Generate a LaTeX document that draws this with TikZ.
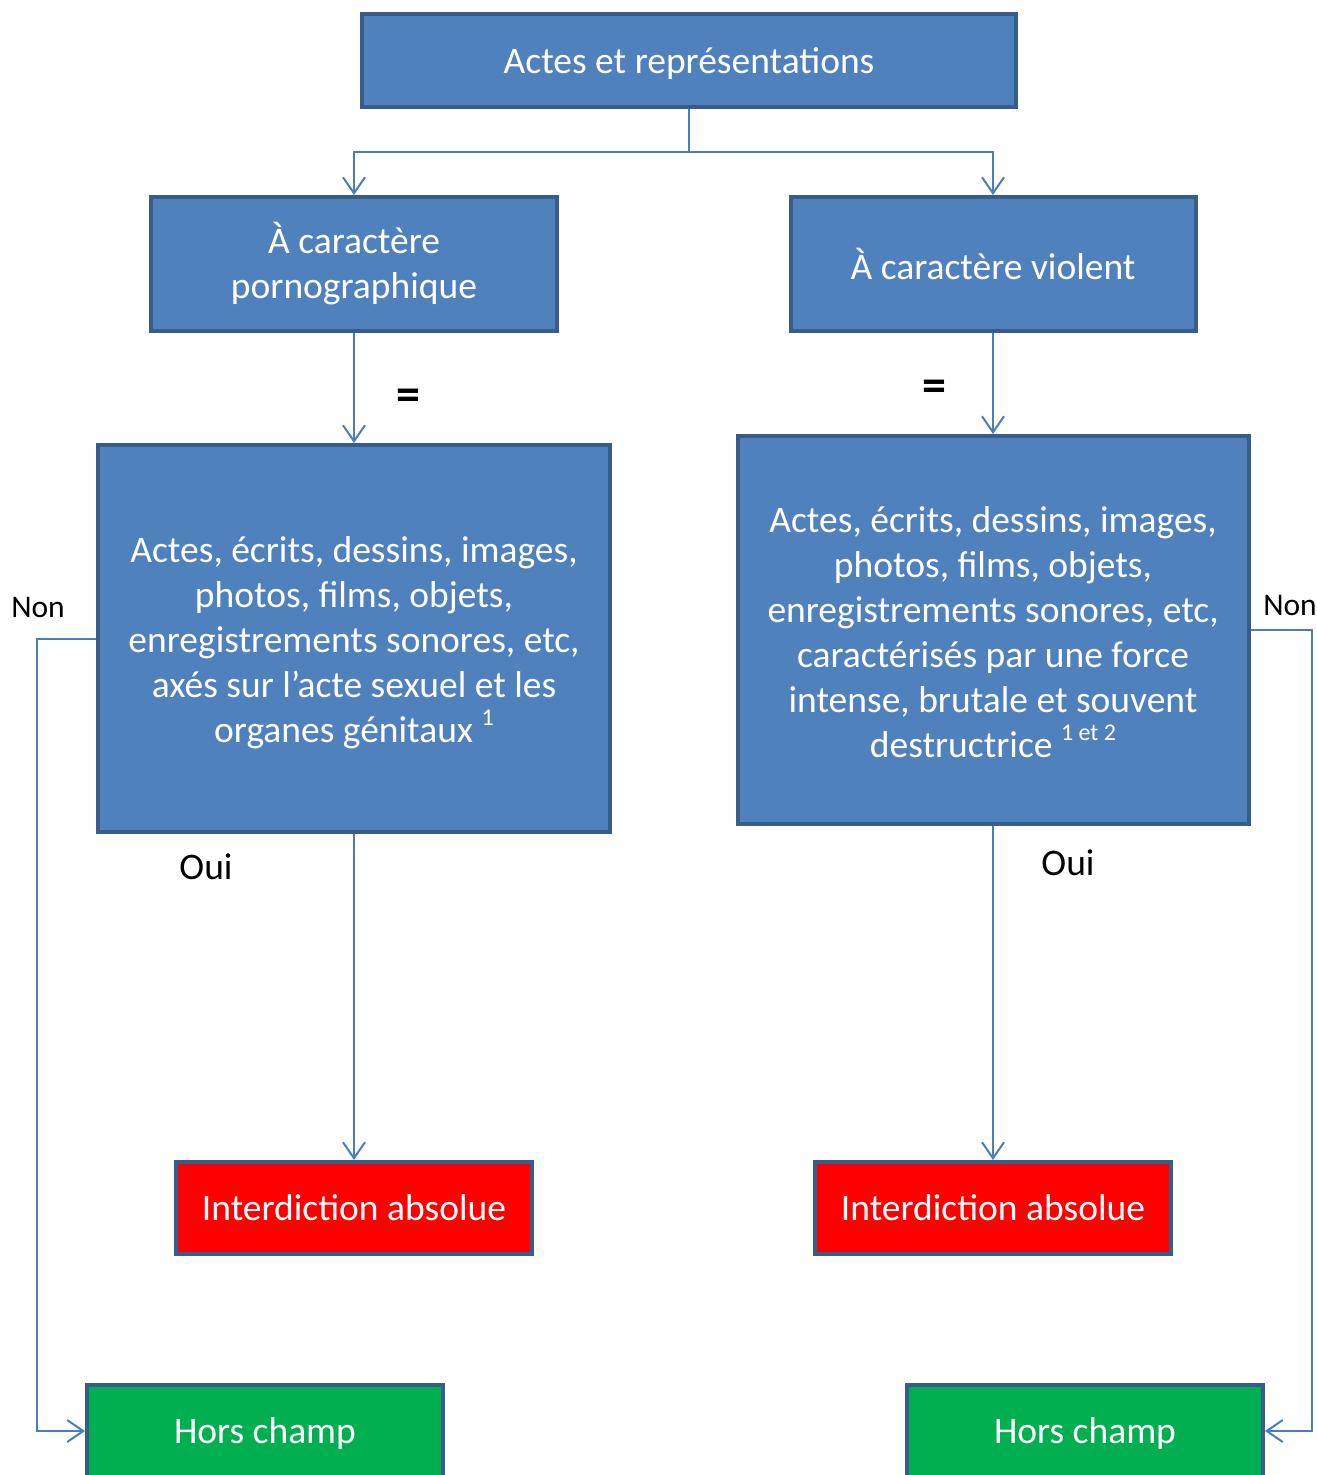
\documentclass[tikz,border=0pt]{standalone}
\usepackage{fontspec}
\setmainfont{Carlito}
\usetikzlibrary{arrows.meta}
\definecolor{boxfill}{HTML}{4F81BD}
\definecolor{boxline}{HTML}{385D8A}
\definecolor{conncol}{HTML}{4A7EBB}
\definecolor{redfill}{HTML}{FF0000}
\definecolor{greenfill}{HTML}{00B050}
\tikzset{
  box/.style={draw=boxline, line width=4pt, fill=boxfill, text=white, align=center,
    inner sep=0pt, font=\fontsize{37.5}{45}\selectfont},
  btext/.style={text=white, align=center, inner sep=0pt, font=\fontsize{37.5}{45}\selectfont},
  redbox/.style={box, fill=redfill},
  greenbox/.style={box, fill=greenfill},
  conn/.style={draw=conncol, line width=2pt},
  arr/.style={conn, -{Straight Barb[length=16pt,width=22pt]}},
  lbl/.style={text=black, inner sep=0pt, font=\fontsize{31.5}{36}\selectfont},
  biglbl/.style={text=black, inner sep=0pt, font=\fontsize{37.5}{42}\selectfont},
  eqlbl/.style={text=black, inner sep=0pt, font=\fontsize{48}{50}\selectfont\bfseries},
}
\newcommand{\supr}[1]{\raisebox{0.45em}{\fontsize{24}{26}\selectfont #1}}
\begin{document}
\begin{tikzpicture}[x=1pt,y=-1pt]
\useasboundingbox (0,0) rectangle (1317,1475);
\fill[white] (0,0) rectangle (1317,1475);

\node[box, minimum width=654pt, minimum height=93pt] (top) at (689,60.5) {};
\node[btext] (toptext) at ([yshift=-3.5pt]top.center) {Actes et représentations};
\node[box, minimum width=406pt, minimum height=134pt] (l2) at (354,264) {À caractère\\pornographique};
\node[box, minimum width=405pt, minimum height=134pt] (r2) at (993,264) {À caractère violent};
\node[box, minimum width=512pt, minimum height=387pt] (l3) at (354,638.5) {};
\node[btext] (l3text) at ([yshift=-4.5pt]l3.center)
  {Actes, écrits, dessins, images,\\photos, films, objets,\\enregistrements sonores, etc,\\axés sur l’acte sexuel et les\\organes génitaux \supr{1}};
\node[box, minimum width=511pt, minimum height=388pt] (r3) at (993,630) {};
\node[btext] (r3text) at ([yshift=-2pt]r3.center)
  {Actes, écrits, dessins, images,\\photos, films, objets,\\enregistrements sonores, etc,\\caractérisés par une force\\intense, brutale et souvent\\destructrice \supr{1 et 2}};
\node[redbox, minimum width=356pt, minimum height=92pt] (il) at (354,1208) {Interdiction absolue};
\node[redbox, minimum width=356pt, minimum height=92pt] (ir) at (993,1208) {Interdiction absolue};
\node[greenbox, minimum width=356pt, minimum height=92pt] (hl) at (265,1431) {};
\node[btext] (hltext) at ([yshift=-2.5pt]hl.center) {Hors champ};
\node[greenbox, minimum width=356pt, minimum height=92pt] (hr) at (1085,1431) {};
\node[btext] (hrtext) at ([yshift=-2.5pt]hr.center) {Hors champ};

\coordinate (split) at (689,152);
\draw[conn] (top.south) -- (split);
\draw[arr] (split) -| (l2.north);
\draw[arr] (split) -| (r2.north);
\draw[arr] (l2.south) -- (l3.north);
\draw[arr] (r2.south) -- (r3.north);
\draw[arr] (l3.south) -- (il.north);
\draw[arr] (r3.south) -- (ir.north);
\draw[arr] (l3.west) -- ++(-59,0) |- (hl.west);
\draw[arr] (r3.east) -- ++(61,0) |- (hr.east);

\node[eqlbl] (eql) at (408,400) {=};
\node[eqlbl] (eqr) at (934,391) {=};
\node[biglbl] (ouil) at (206,867) {Oui};
\node[biglbl] (ouir) at (1068,863) {Oui};
\node[lbl] (nonl) at (38,607) {Non};
\node[lbl] (nonr) at (1290,605) {Non};
\end{tikzpicture}
\end{document}
